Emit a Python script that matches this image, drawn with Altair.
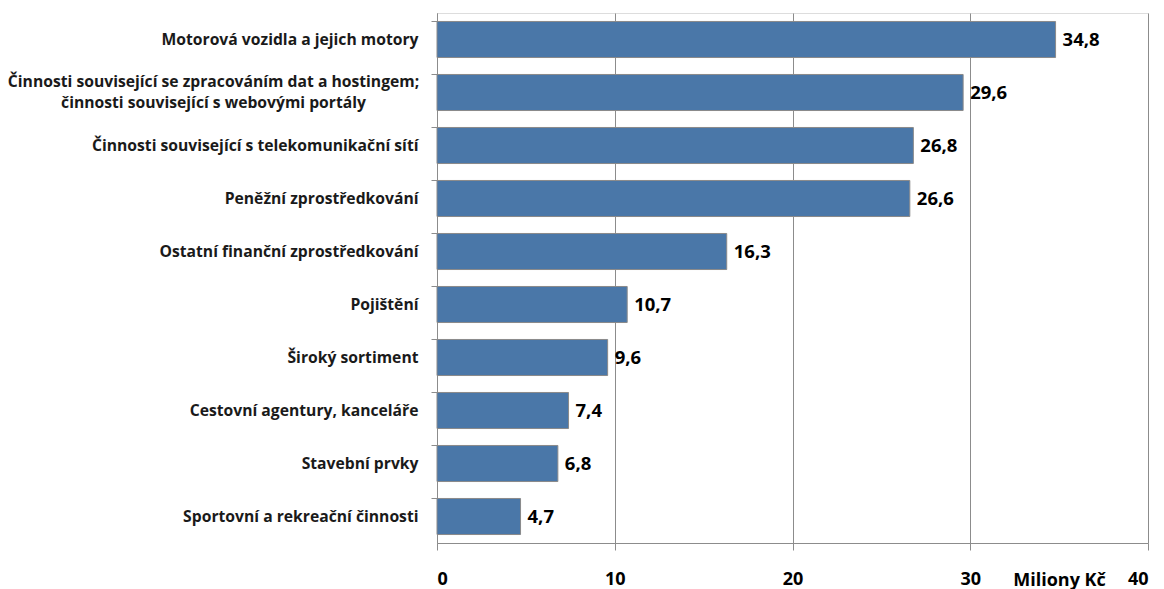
import altair as alt
import pandas as pd

categories = [
    "Motorová vozidla a jejich motory",
    "Činnosti související se zpracováním dat a hostingem;|činnosti související s webovými portály",
    "Činnosti související s telekomunikační sítí",
    "Peněžní zprostředkování",
    "Ostatní finanční zprostředkování",
    "Pojištění",
    "Široký sortiment",
    "Cestovní agentury, kanceláře",
    "Stavební prvky",
    "Sportovní a rekreační činnosti",
]
values = [34.8, 29.6, 26.8, 26.6, 16.3, 10.7, 9.6, 7.4, 6.8, 4.7]
value_labels = ["34,8", "29,6", "26,8", "26,6", "16,3", "10,7", "9,6", "7,4", "6,8", "4,7"]
x_ticks = [0, 10, 20, 30, 40]

df = pd.DataFrame({"cat": categories, "value": values, "label": value_labels})

FONT = "Open Sans"
GRAY = "#8c8c8c"
MULTI = "indexof(datum.value, '|') >= 0"

yscale = alt.Scale(paddingInner=0.32, paddingOuter=0.16)

base = alt.Chart(df).encode(
    x=alt.X(
        "value:Q",
        scale=alt.Scale(domain=[0, 40], nice=False),
        axis=alt.Axis(
            values=x_ticks,
            grid=True,
            gridColor=GRAY,
            gridWidth=1,
            domainColor=GRAY,
            tickColor=GRAY,
            tickSize=7,
            labelPadding=20,
            labelFont=FONT,
            labelFontSize=18,
            labelFontWeight="bold",
            labelColor="#000000",
            title="Miliony Kč",
            titleFont=FONT,
            titleFontSize=18,
            titleFontWeight="bold",
            titleColor="#000000",
            titleX=622,
            titleY=37,
            titleAlign="center",
            titleBaseline="middle",
        ),
    )
)

bars = base.mark_bar(color="#4a77a8", stroke="#8a8a8a", strokeWidth=1).encode(
    y=alt.Y(
        "cat:N",
        sort=categories,
        scale=yscale,
        axis=alt.Axis(
            orient="left",
            title=None,
            labels=False,
            bandPosition=0,
            ticks=True,
            tickSize=6,
            tickColor=GRAY,
            domainColor=GRAY,
            grid=False,
        ),
    )
)

text = base.mark_text(
    align="left", baseline="middle", dx=7, font=FONT, fontSize=18.5, fontWeight="bold", color="#000000"
).encode(
    y=alt.Y(
        "cat:N",
        sort=categories,
        scale=yscale,
        axis=alt.Axis(
            orient="left",
            title=None,
            ticks=False,
            domain=False,
            grid=False,
            labelPadding=alt.ConditionalAxisNumber(condition={"test": MULTI, "value": 224}, value=19),
            labelOffset=alt.ConditionalAxisNumber(condition={"test": MULTI, "value": -11}, value=0),
            labelFont=FONT,
            labelFontSize=15.7,
            labelFontWeight="bold",
            labelColor="#1a1a1a",
            labelLimit=0,
            labelAlign=alt.ConditionalAxisLabelAlign(condition={"test": MULTI, "value": "center"}, value="right"),
            labelExpr="split(datum.label, '|')",
            labelLineHeight=21,
        ),
    ),
    text="label:N",
)

chart = (
    alt.layer(bars, text)
    .resolve_axis(y="independent")
    .properties(
        width=711,
        height=530,
        autosize=alt.AutoSizeParams(type="none"),
        padding={"left": 437, "top": 13, "right": 16, "bottom": 46},
    )
    .configure_view(stroke=None)
    .configure(background="white")
)

chart.save("out.html", embed_options={"renderer": "svg", "actions": False})
